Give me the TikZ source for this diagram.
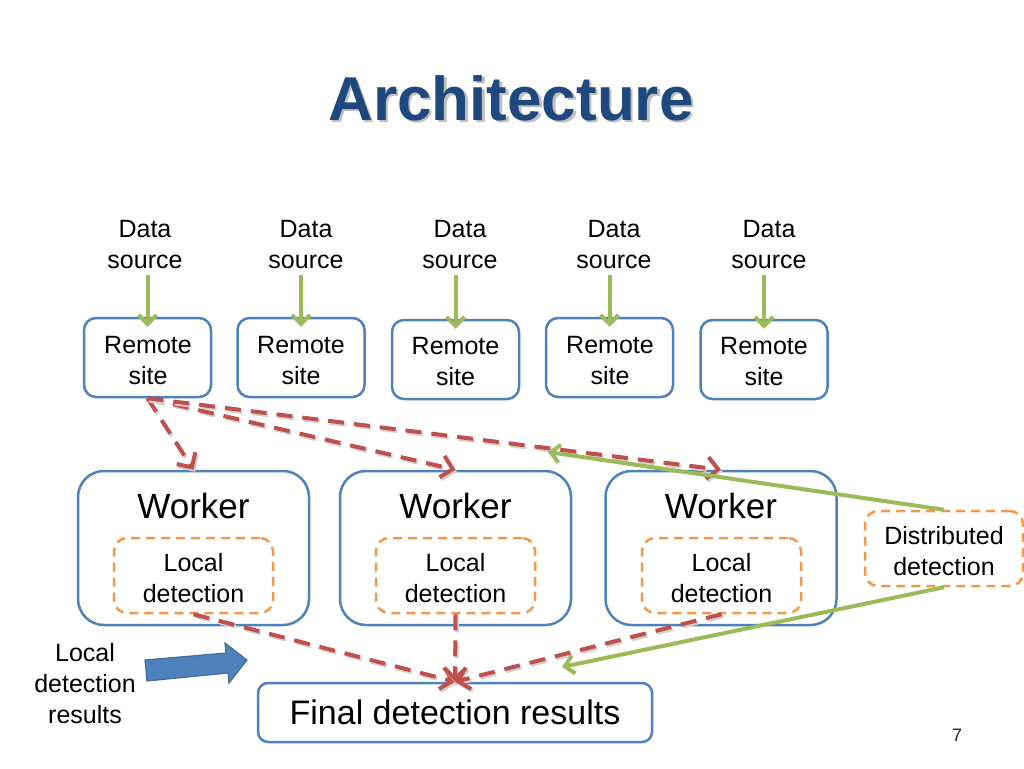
\documentclass[tikz,border=0pt]{standalone}
\usepackage{fontspec}
\setmainfont{Liberation Sans}
\usetikzlibrary{arrows.meta}
\definecolor{bluebox}{HTML}{4F81BD}
\definecolor{blueedge}{HTML}{41719C}
\definecolor{redl}{HTML}{C0504D}
\definecolor{greenl}{HTML}{9BBB59}
\definecolor{orangel}{HTML}{F79646}
\definecolor{titleblue}{HTML}{1F497D}
\tikzset{
  txt/.style={font=\fontsize{25}{31}\selectfont, align=center, inner sep=0pt},
  rbox/.style={draw=bluebox, line width=2.5pt, rounded corners=12pt, minimum width=127pt, minimum height=79pt, inner sep=0pt},
  wbox/.style={draw=bluebox, line width=2.5pt, rounded corners=26pt, minimum width=231pt, minimum height=154pt, inner sep=0pt},
  lbox/.style={draw=orangel, line width=2.5pt, dash pattern=on 9pt off 6pt, rounded corners=13pt, minimum width=159pt, minimum height=75pt, inner sep=0pt},
  wtitle/.style={font=\fontsize{35}{40}\selectfont, inner sep=0pt},
  redarrow/.style={draw=redl, line width=4pt, dash pattern=on 16pt off 10pt, -{Straight Barb[length=11pt,width=22pt]}, preaction={draw=black!18, line width=4pt, dash pattern=on 16pt off 10pt, transform canvas={shift={(1.5pt,-2pt)}}}},
  greenarrow/.style={draw=greenl, line width=4pt, -{Straight Barb[length=9pt,width=18pt]}},
}
\begin{document}
\begin{tikzpicture}[x=1pt,y=-1pt]
\useasboundingbox (0,0) rectangle (1024,768);

% title
\node[anchor=base, font=\fontsize{62}{62}\selectfont\bfseries, text=black!25, inner sep=0pt] (titleshadow) at (513.5,122.5) {Architecture};
\node[anchor=base, font=\fontsize{62}{62}\selectfont\bfseries, text=titleblue, inner sep=0pt] (title) at (511,120) {Architecture};

% data sources
\node[txt] (ds1) at (145,245) {Data\\source};
\node[txt] (ds2) at (306,245) {Data\\source};
\node[txt] (ds3) at (460,245) {Data\\source};
\node[txt] (ds4) at (614,245) {Data\\source};
\node[txt] (ds5) at (769,245) {Data\\source};

% remote sites
\node[rbox] (rs1) at (147.5,357.5) {};
\node[rbox] (rs2) at (301,357.5) {};
\node[rbox] (rs3) at (455.5,359.5) {};
\node[rbox] (rs4) at (609.5,357.5) {};
\node[rbox] (rs5) at (764,359.5) {};
\node[txt] (rt1) at (148,360.5) {Remote\\site};
\node[txt] (rt2) at (301,360.5) {Remote\\site};
\node[txt] (rt3) at (455.5,362) {Remote\\site};
\node[txt] (rt4) at (610,360.5) {Remote\\site};
\node[txt] (rt5) at (764,362) {Remote\\site};

% green source arrows
\foreach \i in {1,...,5}{
  \draw[greenarrow, shorten <=6pt, shorten >=-10pt] (ds\i.south -| rs\i.north) -- (rs\i.north);
}

% workers
\node[wbox] (w1) at (193.5,548) {};
\node[wbox] (w2) at (455.5,548) {};
\node[wbox] (w3) at (721,548) {};
\node[wtitle] (wt1) at (193.5,506) {Worker};
\node[wtitle] (wt2) at (455.5,506) {Worker};
\node[wtitle] (wt3) at (721,506) {Worker};
\node[lbox] (ld1) at (193.5,575.5) {};
\node[lbox] (ld2) at (455.5,575.5) {};
\node[lbox] (ld3) at (721.5,575.5) {};
\node[txt] (lt1) at (193.5,578.5) {Local\\detection};
\node[txt] (lt2) at (455.5,578.5) {Local\\detection};
\node[txt] (lt3) at (721.5,578.5) {Local\\detection};

% distributed detection
\node[lbox, minimum width=158pt] (dd) at (944,548.5) {};
\node[txt] (ddt) at (944,551.5) {Distributed\\detection};

% final
\node[draw=bluebox, line width=2.5pt, rounded corners=10pt, minimum width=394pt, minimum height=59pt, inner sep=0pt, font=\fontsize{34}{40}\selectfont] (fin) at (455,712.5) {Final detection results};

% left label
\node[txt] (lbl) at (85,684) {Local\\detection\\results};

% blue block arrow
\draw[fill=bluebox, draw=blueedge, line width=1.2pt, line join=miter]
  (145,660) -- (226,653) -- (225,643) -- (247,660) -- (229,683) -- (228,673) -- (147,681) -- cycle;

% page number
\node[font=\fontsize{18}{20}\selectfont, text=black!85, inner sep=0pt] (pg) at (957,735) {7};

% red connectors
\draw[redarrow] (rs1.south) -- (w1.north);
\draw[redarrow] (rs1.south) -- (w2.north);
\draw[redarrow] (rs1.south) -- (w3.north);
\draw[redarrow] (ld1.south) -- (fin.north);
\draw[redarrow] (ld2.south) -- (fin.north);
\draw[redarrow] (ld3.south) -- (fin.north);

% green connectors from distributed detection
\coordinate (g1) at (548,452);
\coordinate (g2) at (562,667);
\draw[greenarrow] (dd.north) -- (g1);
\draw[greenarrow] (dd.south) -- (g2);
\end{tikzpicture}
\end{document}
